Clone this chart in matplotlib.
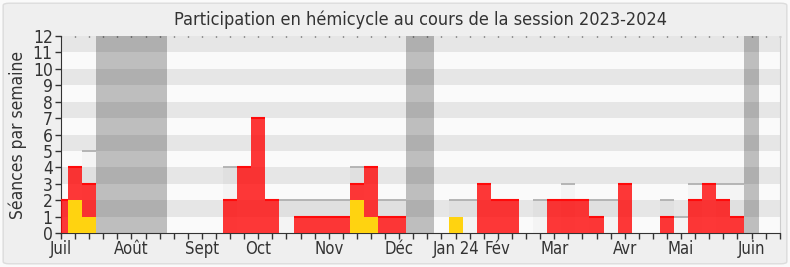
import matplotlib
matplotlib.use("Agg")
import matplotlib.pyplot as plt
from matplotlib.patches import FancyBboxPatch
import numpy as np

# semaines de la session (index 0 = premiere semaine de juillet 2023)
semaines = np.arange(52)
presences = [2, 4, 3, 0, 0, 0, 0, 0, 0, 0, 0, 0, 2, 4, 7, 2, 0, 1, 1, 1,
             1, 3, 4, 1, 1, 0, 0, 0, 0, 0, 3, 2, 2, 0, 0, 2, 2, 2, 1, 0,
             3, 0, 0, 1, 0, 2, 3, 2, 1, 0, 0, 0]
interventions = [0, 2, 1, 0, 0, 0, 0, 0, 0, 0, 0, 0, 0, 0, 0, 0, 0, 0, 0, 0,
                 0, 2, 1, 0, 0, 0, 0, 0, 1, 0, 0, 0, 0, 0, 0, 0, 0, 0, 0, 0,
                 0, 0, 0, 0, 0, 0, 0, 0, 0, 0, 0, 0]
seances_total = [0, 0, 5, 0, 0, 0, 0, 0, 0, 0, 0, 0, 4, 0, 0, 0, 2, 2, 2, 2,
                 2, 4, 0, 2, 2, 0, 0, 0, 2, 2, 0, 0, 0, 0, 2, 0, 3, 0, 2, 2,
                 0, 0, 0, 2, 1, 3, 0, 3, 3, 0, 0, 0]
vacances = [(3, 7), (25, 26), (49, 49)]
mois_pos = [0, 5, 10, 14, 19, 24, 28, 31, 35, 40, 44, 49]
mois_lab = ["Juil", "Août", "Sept", "Oct", "Nov", "Déc", "Jan 24", "Fév",
            "Mar", "Avr", "Mai", "Juin"]

FONT = dict(family="DejaVu Sans", stretch="condensed")
INK = "#333333"

fig = plt.figure(figsize=(7.9, 2.67), dpi=100, facecolor="#fafafa")
fig.patches.append(FancyBboxPatch((0.004, 0.012), 0.992, 0.976,
                                  boxstyle="round,pad=0,rounding_size=0.008",
                                  transform=fig.transFigure, fc="#efefef",
                                  ec="#dcdcdc", lw=1, zorder=-10))
ax = fig.add_axes([0.0772, 0.1273, 0.9098, 0.7377])
ax.set_facecolor("#fafafa")
ax.set_xlim(0, 51)
ax.set_ylim(0, 12)

# bandes horizontales alternees
for k in range(1, 12, 2):
    ax.axhspan(k, k + 1, color="#e6e6e6", lw=0, zorder=0)

for a, b in vacances:
    ax.axvspan(a - 0.5, b + 0.5, color="black", alpha=0.24, lw=0, zorder=1)

ax.bar(semaines, seances_total, width=1, color="black", alpha=0.025, lw=0, zorder=2)
for x, v in zip(semaines, seances_total):
    if v:
        ax.hlines(v, x - 0.5, x + 0.5, color="#b0b0b0", lw=1.3, zorder=2)

ax.bar(semaines, presences, width=1, color="#ff0000", alpha=0.78, lw=0, zorder=3)
for x, v in zip(semaines, presences):
    if v:
        ax.hlines(v, x - 0.5, x + 0.5, color="#ff0a0a", lw=1.5, zorder=3)

ax.bar(semaines, interventions, width=1, color="#ffd310", lw=0, zorder=4)

ax.set_xticks(semaines)
ax.set_xticklabels([mois_lab[mois_pos.index(i)] if i in mois_pos else "" for i in semaines])
ax.set_yticks(range(13))
ax.tick_params(axis="both", colors=INK, length=4, width=1)
ax.tick_params(axis="x", labelsize=12, pad=1)
ax.tick_params(axis="y", labelsize=12.5, pad=2)
for lab in ax.get_xticklabels() + ax.get_yticklabels():
    lab.set(**FONT)
    lab.set_color("#333333")

top = ax.secondary_xaxis("top")
top.set_xticks(semaines)
top.tick_params(direction="in", length=1, width=1, colors="#444444", labeltop=False)
top.spines["top"].set_visible(False)

ax.spines["top"].set_visible(False)
ax.spines["right"].set_color("#cccccc")
ax.spines["left"].set_color(INK)
ax.spines["bottom"].set_color(INK)

ax.set_ylabel("Séances par semaine", fontsize=12.5, color=INK, labelpad=4, **FONT)
ax.set_title("Participation en hémicycle au cours de la session 2023-2024",
             fontsize=13, color=INK, pad=8, **FONT)

fig.savefig("out.png", facecolor=fig.get_facecolor())
